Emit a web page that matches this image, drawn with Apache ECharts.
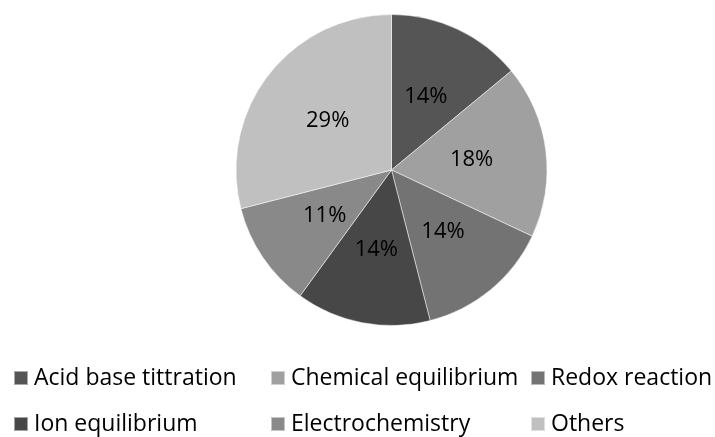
<!DOCTYPE html>
<html><head><meta charset="utf-8">
<script src="https://cdn.jsdelivr.net/npm/echarts@6/dist/echarts.min.js"></script>
<style>html,body{margin:0;padding:0;background:#fff}#c{width:715px;height:437px}</style>
</head><body><div id="c"></div>
<script>
const categories = ["Acid base tittration","Chemical equilibrium","Redox reaction","Ion equilibrium","Electrochemistry","Others"];
const values = [14, 18, 14, 14, 11, 29];
const colors = ["#555555","#a0a0a0","#737373","#474747","#898989","#c0c0c0"];

const FONT = 'Open Sans';
const legendPos = [[13,366],[270,366],[530,366],[13,412],[270,412],[530,412]];
const legends = categories.map((name,i)=>({
  data:[name], left:legendPos[i][0], top:legendPos[i][1], padding:0,
  icon:'rect', itemWidth:14, itemHeight:14, selectedMode:false,
  textStyle:{fontFamily:FONT, fontSize:23, color:'#000', lineHeight:24, padding:[0,0,0,1]}
}));

const chart = echarts.init(document.getElementById('c'), null, {renderer:'canvas'});
chart.setOption({
  animation:false,
  color: colors,
  legend: legends,
  series:[{
    type:'pie', center:[391.5,170], radius:155.5, startAngle:90, clockwise:true,
    data: categories.map((n,i)=>({name:n, value:values[i]})),
    itemStyle:{borderColor:'rgba(255,255,255,0.5)', borderWidth:1},
    label:{show:true, position:'inside', formatter: p => Math.round(p.percent)+'%',
      fontFamily:FONT, fontSize:22, color:'#000'},
    labelLine:{show:false},
    emphasis:{disabled:true}
  }]
});
</script></body></html>
